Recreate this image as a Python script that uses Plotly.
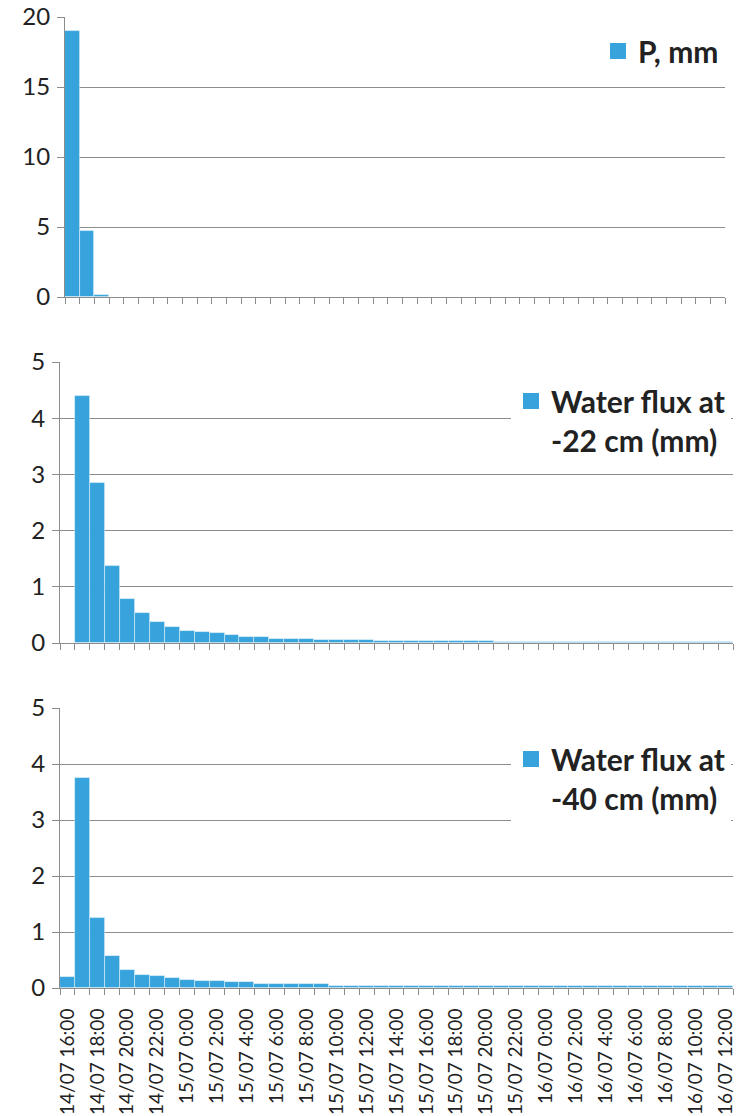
import plotly.graph_objects as go
import pandas as pd

# ---------------- data ----------------
times = pd.date_range("2014-07-14 16:00", periods=45, freq="h")
categories = [f"{t.day:02d}/{t.month:02d} {t.hour}:00" for t in times]
tick_labels = [c if i % 2 == 0 else "" for i, c in enumerate(categories)]

p_mm = [19.0, 4.7, 0.15, 0, 0, 0, 0, 0, 0, 0,
        0, 0, 0, 0, 0, 0, 0, 0, 0, 0,
        0, 0, 0, 0, 0, 0, 0, 0, 0, 0,
        0, 0, 0, 0, 0, 0, 0, 0, 0, 0,
        0, 0, 0, 0, 0]

flux_22 = [0, 4.4, 2.85, 1.37, 0.78, 0.54, 0.37, 0.28, 0.22, 0.19,
           0.17, 0.14, 0.11, 0.11, 0.08, 0.08, 0.08, 0.05, 0.05, 0.05,
           0.05, 0.03, 0.03, 0.03, 0.03, 0.03, 0.03, 0.03, 0.03, 0.01,
           0.01, 0.01, 0.01, 0.01, 0.01, 0.01, 0.01, 0.01, 0.01, 0.01,
           0.01, 0.01, 0.01, 0.01, 0.01]

flux_40 = [0.2, 3.75, 1.25, 0.57, 0.32, 0.24, 0.21, 0.18, 0.15, 0.12,
           0.12, 0.10, 0.10, 0.07, 0.07, 0.07, 0.07, 0.07, 0.04, 0.04,
           0.04, 0.04, 0.04, 0.04, 0.04, 0.04, 0.04, 0.04, 0.04, 0.04,
           0.04, 0.04, 0.04, 0.04, 0.04, 0.04, 0.04, 0.04, 0.04, 0.04,
           0.04, 0.04, 0.04, 0.04, 0.04]

names = ["P, mm", "Water flux at<br>-22 cm (mm)", "Water flux at<br>-40 cm (mm)"]

# ---------------- style ----------------
W, H = 742, 1116
BAR = "#36A3DC"
GRID = "#8C8C8C"
TXT = "#222222"
FONT = "Lato"


def fx(p):
    return p / W


def fy(p):
    return 1 - p / H


fig = go.Figure()
series = [p_mm, flux_22, flux_40]
suffix = ["", "2", "3"]
for vals, nm, s in zip(series, names, suffix):
    fig.add_trace(go.Bar(
        x=categories, y=vals, name=nm, showlegend=False,
        xaxis="x" + s, yaxis="y" + s,
        marker=dict(color=BAR, line=dict(color="rgba(255,255,255,0.55)", width=0.8)),
    ))
    # legend entry with a larger square key
    fig.add_trace(go.Scatter(
        x=[None], y=[None], name=nm, mode="markers", showlegend=True,
        xaxis="x" + s, yaxis="y" + s, legend="legend" + s,
        marker=dict(symbol="square", size=16, color=BAR),
    ))

xcommon = dict(
    type="category", categoryorder="array", categoryarray=categories,
    range=[-0.5, len(categories) - 0.5], automargin=False,
    showgrid=False, zeroline=False, showline=True, linecolor=GRID, linewidth=1,
    ticks="outside", tickson="boundaries", ticklen=6, tickwidth=1, tickcolor=GRID,
    tickmode="array", tickvals=categories, ticktext=tick_labels, tickangle=-90,
    tickfont=dict(family=FONT, size=19, color=TXT), ticklabelstandoff=12,
    ticklabeloverflow="allow",
)
ycommon = dict(
    showgrid=True, gridcolor=GRID, gridwidth=1, zeroline=False, automargin=False,
    showline=True, linecolor=GRID, linewidth=1,
    ticks="outside", ticklen=7, tickwidth=1, tickcolor=GRID,
    tickfont=dict(family=FONT, size=24, color=TXT), ticklabelstandoff=2,
    ticklabeloverflow="allow",
)

# pixel geometry of the three panels (left, right, top, bottom)
panels = [(65, 725, 17, 297), (60, 733, 362, 643), (60, 733, 708, 988)]
yranges = [[0, 20], [0, 5], [0, 5]]
dticks = [5, 1, 1]

layout = dict(
    width=W, height=H, margin=dict(l=0, r=0, t=0, b=0, autoexpand=False),
    paper_bgcolor="white", plot_bgcolor="white", showlegend=True,
    bargap=0, bargroupgap=0,
    font=dict(family=FONT, color=TXT),
)
for i, (s, (l, r, t, b)) in enumerate(zip(suffix, panels)):
    xa = dict(xcommon, domain=[fx(l), fx(r)], anchor="y" + s,
              showticklabels=(i == 2))
    ya = dict(ycommon, domain=[fy(b), fy(t)], anchor="x" + s,
              range=yranges[i], dtick=dticks[i], tick0=0)
    layout["xaxis" + s] = xa
    layout["yaxis" + s] = ya

leg_common = dict(
    xanchor="right", yanchor="top", bgcolor="white", borderwidth=0,
    font=dict(family=FONT, size=30, color=TXT, weight="bold"),
    valign="top", itemclick=False, itemdoubleclick=False, visible=True,
)
layout["legend"] = dict(leg_common, x=fx(724), y=fy(25))
layout["legend2"] = dict(leg_common, x=fx(731), y=fy(375))
layout["legend3"] = dict(leg_common, x=fx(731), y=fy(733))

fig.update_layout(**layout)
fig.write_html(
    "out.html",
    config={"displayModeBar": False},
    post_script="document.body.style.margin='0px';document.body.style.overflow='hidden';",
)
